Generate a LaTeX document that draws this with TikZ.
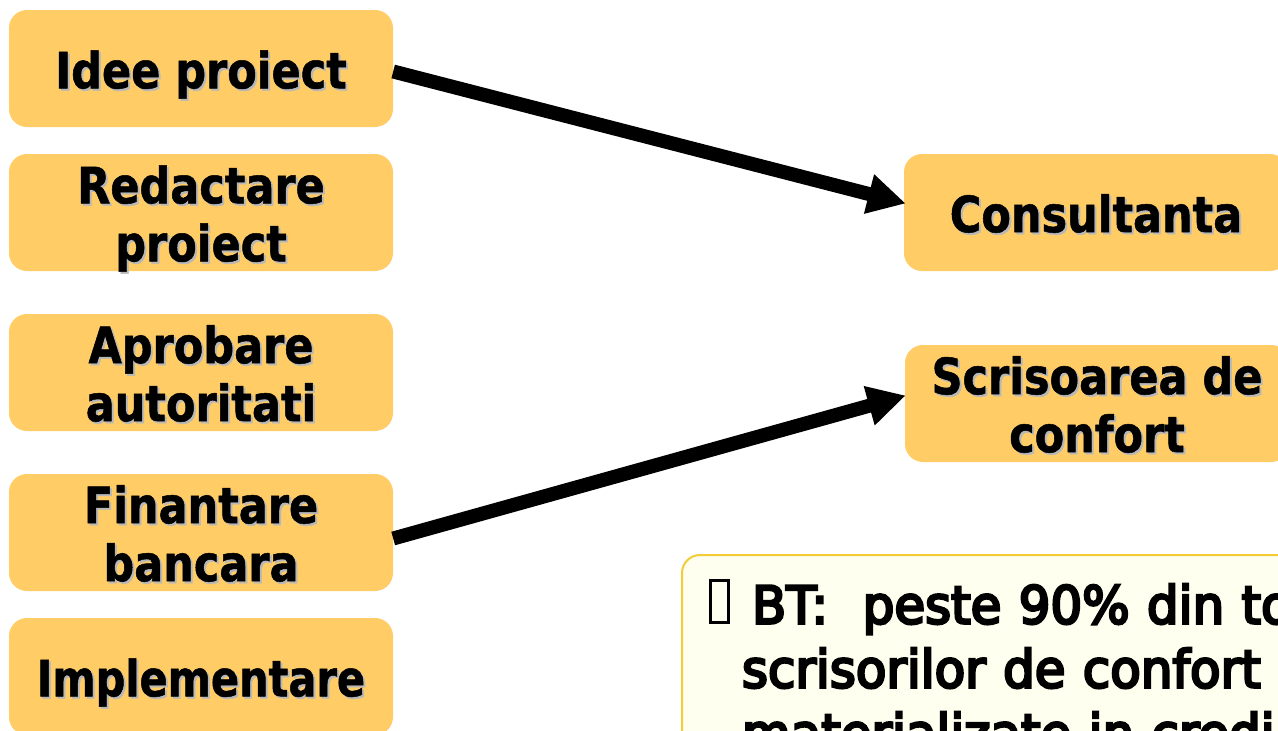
\documentclass[tikz,border=0pt]{standalone}
\usepackage{fontspec}
\usetikzlibrary{arrows.meta,calc}
\newfontfamily\boxfont{DejaVu Sans}[FakeStretch=0.86,FakeBold=1]
\newfontfamily\widefont{DejaVu Sans}[FakeStretch=0.83,FakeBold=1]
\newfontfamily\notefont{DejaVu Sans}[FakeStretch=0.96,FakeBold=5]
\definecolor{boxfill}{HTML}{FFCC66}
\definecolor{notefill}{HTML}{FFFFF0}
\definecolor{noteline}{HTML}{F2CD36}
\definecolor{txtshadow}{HTML}{B8B8B8}
\newcommand\shln[2][2pt]{\raisebox{-#1}[\height][\depth]{\rlap{\raisebox{-2pt}{\hspace{2pt}\textcolor{txtshadow}{#2}}}#2}}
\tikzset{
  stage/.style={fill=boxfill,rounded corners=18pt,minimum width=384pt,minimum height=117pt,
    inner sep=0pt,align=center,font=\boxfont\bfseries\fontsize{50pt}{58pt}\selectfont},
  link/.style={line width=14pt,-{Triangle[length=38pt,width=38pt]}},
  note/.style={draw=noteline,fill=notefill,line width=2pt,rounded corners=18pt,anchor=north west,
    inner xsep=60pt,inner ysep=29pt,text width=700pt,align=left,
    font=\notefont\fontsize{52pt}{64pt}\selectfont},
  bulletbox/.style={draw=black,line width=3pt,minimum width=18pt,minimum height=42pt,inner sep=0pt}
}
\begin{document}
\begin{tikzpicture}[x=1pt,y=-1pt]
\useasboundingbox (0,0) rectangle (1278,731);
\clip (0,0) rectangle (1278,731);
\node[stage] (idee) at (201,68.5) {\shln[7pt]{Idee proiect}};
\node[stage] (redactare) at (201,212.5) {\shln[7pt]{Redactare}\\\shln[7pt]{proiect}};
\node[stage] (aprobare) at (201,372.5) {\shln{Aprobare}\\\shln{autoritati}};
\node[stage] (finantare) at (201,532.5) {\shln{Finantare}\\\shln{bancara}};
\node[stage,font=\widefont\bfseries\fontsize{50pt}{58pt}\selectfont] (implementare) at (201,676.5) {\shln[7pt]{Implementare}};
\node[stage] (consultanta) at (1096,212.5) {\shln{Consultanta}};
\node[stage] (scrisoarea) at (1097,403.5) {\shln{Scrisoarea de}\\\shln{confort}};
\draw[link] ([yshift=-3pt]idee.east) -- ([xshift=2pt,yshift=9pt]consultanta.west);
\draw[link] ([yshift=-6pt]finantare.east) -- ([xshift=1pt,yshift=8pt]scrisoarea.west);
\node[note] (nota) at (681,554) {\hspace*{10pt}BT:\ \ peste 90\% din to\\scrisorilor de confort\\materializate in credi};
\node[bulletbox] (bullet) at (719.5,601.5) {};
\end{tikzpicture}
\end{document}
